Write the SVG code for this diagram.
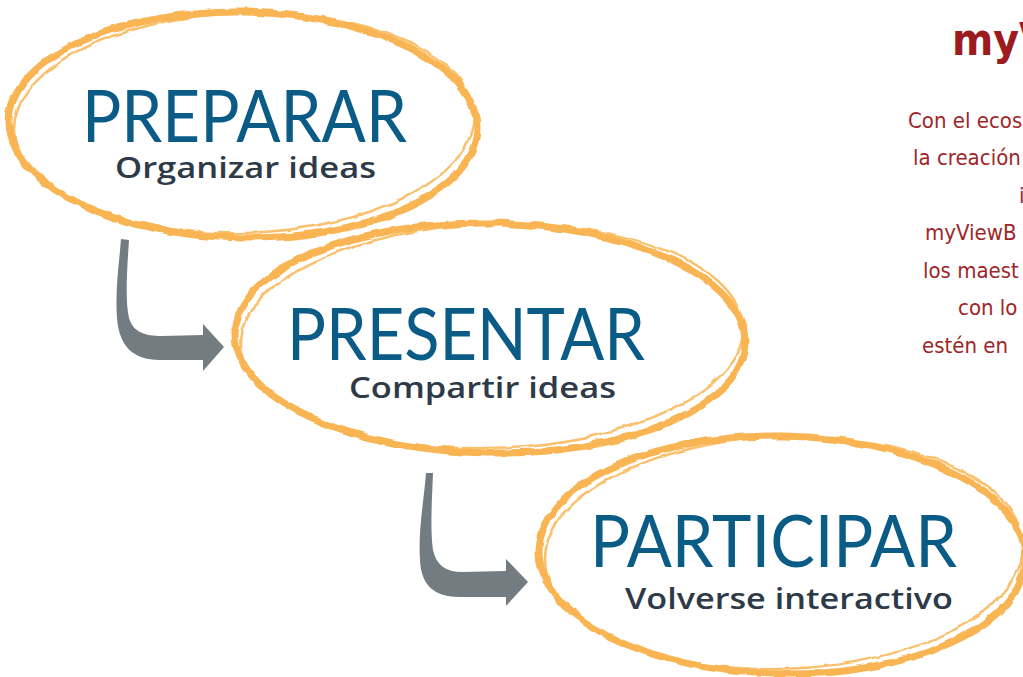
<svg xmlns="http://www.w3.org/2000/svg" width="1023" height="677" viewBox="0 0 1023 677">
<defs>
<filter id="rough" x="-5%" y="-5%" width="110%" height="110%">
<feTurbulence type="fractalNoise" baseFrequency="0.06" numOctaves="2" seed="3" result="n"/>
<feDisplacementMap in="SourceGraphic" in2="n" scale="5" xChannelSelector="R" yChannelSelector="G"/>
</filter>
</defs>
<style>
.ring{fill:none;stroke:#f9b552;stroke-linecap:round}
.main{stroke-width:7}
.thin{stroke-width:2.5;opacity:.85}
.title{font-family:Lato,"Open Sans",sans-serif;font-size:71px;fill:#0b5b87}
.sub{font-family:"Open Sans",Inter,sans-serif;font-weight:600;font-size:29px;fill:#2e3a48}
.arrow{fill:#737c80}
.red{font-family:"DejaVu Sans",Verdana,sans-serif;font-stretch:condensed;font-size:22px;fill:#9e2628}
.head{font-family:"DejaVu Sans",Verdana,sans-serif;font-stretch:condensed;font-weight:bold;font-size:44px;fill:#9b1b1f}
</style>
<rect width="1023" height="677" fill="#ffffff"/>

<g id="connectors">
<path class="arrow" d="M121,239 L129,240 C127,270 125,300 129,318 C133,332 145,336 162,336 L203,335 L203,324 L224,347 L203,371 L203,360 L160,360 C132,360 119,345 117,318 C115,290 119,265 121,239 Z"/>
<path class="arrow" d="M426,473 L433,473 C432,500 430,530 433,550 C436,565 446,572 462,572 L506,571 L506,559 L528,582 L506,606 L506,597 L460,597 C434,597 421,585 420,560 C418,530 424,500 426,473 Z"/>
</g>

<g id="node-preparar">
<g filter="url(#rough)">
<ellipse class="ring main" cx="243" cy="125" rx="234" ry="113" transform="rotate(1 243 125)"/>
<ellipse class="ring thin" cx="244" cy="123" rx="230" ry="110" transform="rotate(-2 243 125)"/>
</g>
<text class="title" x="82" y="142" textLength="325" lengthAdjust="spacingAndGlyphs">PREPARAR</text>
<text class="sub" x="115" y="178" textLength="261" lengthAdjust="spacingAndGlyphs">Organizar ideas</text>
</g>

<g id="node-presentar">
<g filter="url(#rough)">
<ellipse class="ring main" cx="490" cy="338" rx="255" ry="115" transform="rotate(1 490 338)"/>
<ellipse class="ring thin" cx="492" cy="336" rx="251" ry="112" transform="rotate(-2 490 338)"/>
</g>
<text class="title" x="287" y="360" textLength="358" lengthAdjust="spacingAndGlyphs">PRESENTAR</text>
<text class="sub" x="349" y="398" textLength="267" lengthAdjust="spacingAndGlyphs">Compartir ideas</text>
</g>

<g id="node-participar">
<g filter="url(#rough)">
<ellipse class="ring main" cx="782" cy="555" rx="243" ry="119" transform="rotate(1 782 555)"/>
<ellipse class="ring thin" cx="784" cy="553" rx="239" ry="116" transform="rotate(-2 782 555)"/>
</g>
<text class="title" x="590" y="567" textLength="367" lengthAdjust="spacingAndGlyphs">PARTICIPAR</text>
<text class="sub" x="625" y="609" textLength="328" lengthAdjust="spacingAndGlyphs">Volverse interactivo</text>
</g>

<g id="side-text">
<text class="head" x="952" y="55">myV</text>
<text class="red" x="908" y="128">Con el ecos</text>
<text class="red" x="913" y="165">la creación</text>
<text class="red" x="1019" y="203">i</text>
<text class="red" x="925" y="240">myViewB</text>
<text class="red" x="923" y="278">los maest</text>
<text class="red" x="958" y="315">con lo</text>
<text class="red" x="922" y="353">estén en</text>
</g>
</svg>
